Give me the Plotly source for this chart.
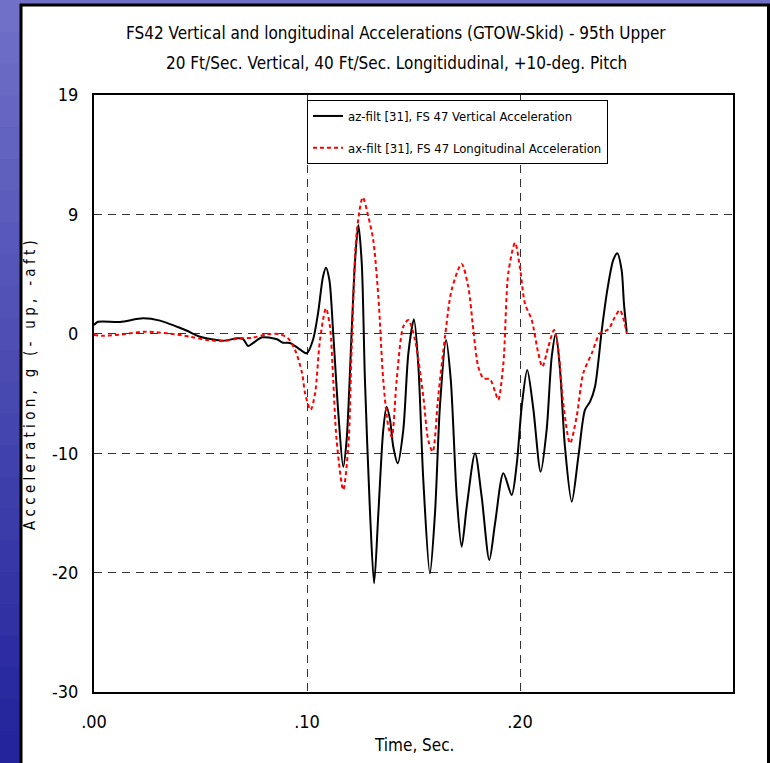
import plotly.graph_objects as go

# ---- data ----
t_az = [0.0000, 0.0019, 0.0122, 0.0230, 0.0310, 0.0390, 0.0437, 0.0498, 0.0606, 0.0671,
        0.0700, 0.0723, 0.0746, 0.0789, 0.0826, 0.0859, 0.0887, 0.0920, 0.0958, 0.0999,
        0.1028, 0.1052, 0.1075, 0.1089, 0.1105, 0.1123, 0.1147, 0.1170, 0.1186, 0.1210,
        0.1225, 0.1241, 0.1257, 0.1272, 0.1296, 0.1315, 0.1335, 0.1358, 0.1374, 0.1390,
        0.1405, 0.1426, 0.1452, 0.1476, 0.1502, 0.1523, 0.1546, 0.1577, 0.1601, 0.1624,
        0.1653, 0.1675, 0.1703, 0.1726, 0.1750, 0.1789, 0.1820, 0.1856, 0.1883, 0.1922,
        0.1961, 0.1985, 0.2008, 0.2034, 0.2062, 0.2097, 0.2125, 0.2149, 0.2168, 0.2188,
        0.2211, 0.2243, 0.2274, 0.2305, 0.2329, 0.2352, 0.2384, 0.2410, 0.2438, 0.2457,
        0.2477, 0.2488, 0.2501]
az = [0.12, 0.39, 0.37, 0.67, 0.48, -0.02, -0.35, -0.84, -1.17, -0.97,
      -1.03, -1.60, -1.36, -0.89, -0.92, -1.05, -1.33, -1.36, -1.77, -2.20,
      -1.11, 1.11, 4.09, 4.83, 3.82, -0.53, -7.10, -11.51, -9.32, -0.29,
      5.21, 8.33, 5.21, -4.39, -15.31, -21.08, -15.31, -8.50, -6.58, -7.68,
      -9.87, -11.23, -8.50, -2.18, 0.59, -3.30, -12.60, -20.26, -15.31, -6.58,
      -1.11, -4.39, -13.97, -18.07, -14.79, -10.41, -13.97, -19.17, -16.15, -12.05,
      -13.83, -11.23, -6.58, -3.57, -6.69, -11.92, -8.50, -2.48, -0.62, -3.57,
      -9.87, -14.38, -10.69, -6.85, -6.17, -4.94, -0.29, 3.00, 5.46, 6.01,
      4.64, 1.90, -0.43]

t_ax = [0.0000, 0.0047, 0.0136, 0.0230, 0.0343, 0.0451, 0.0531, 0.0606, 0.0685, 0.0746,
        0.0812, 0.0873, 0.0911, 0.0944, 0.0977, 0.0991, 0.1017, 0.1038, 0.1061, 0.1089,
        0.1108, 0.1123, 0.1139, 0.1170, 0.1194, 0.1210, 0.1233, 0.1262, 0.1288, 0.1311,
        0.1335, 0.1358, 0.1382, 0.1398, 0.1421, 0.1452, 0.1476, 0.1507, 0.1546, 0.1569,
        0.1590, 0.1616, 0.1648, 0.1679, 0.1726, 0.1757, 0.1781, 0.1804, 0.1828, 0.1859,
        0.1883, 0.1898, 0.1922, 0.1945, 0.1977, 0.2000, 0.2023, 0.2055, 0.2086, 0.2105,
        0.2133, 0.2160, 0.2180, 0.2203, 0.2235, 0.2266, 0.2297, 0.2337, 0.2376, 0.2415,
        0.2446, 0.2469, 0.2485, 0.2501]
ax = [-0.70, -0.76, -0.64, -0.43, -0.56, -0.84, -1.11, -1.19, -0.97, -0.92,
      -0.64, -0.64, -0.97, -1.93, -3.84, -5.48, -6.85, -5.48, -1.11, 1.49,
      -0.02, -4.39, -9.32, -13.42, -9.87, -1.66, 7.65, 10.60, 9.01, 7.10,
      2.44, -4.39, -8.23, -9.05, -4.39, -0.02, 0.53, -1.11, -5.76, -9.32,
      -10.28, -5.76, -0.84, 3.00, 5.13, 3.27, -0.29, -3.30, -4.25, -4.33,
      -5.35, -6.03, -3.02, 4.37, 6.88, 4.80, 1.90, 0.53, -2.20, -3.30,
      -1.66, -0.29, -1.93, -6.30, -9.59, -7.40, -3.84, -2.20, -0.56, -0.23,
      0.80, 1.35, 0.67, -0.56]

y_tickvals = [-30, -20.2, -10.4, -0.6, 9.2, 19]
y_ticktext = ["-30", "-20", "-10", "0", "9", "19"]
x_tickvals = [0.0, 0.1, 0.2]
x_ticktext = [".00", ".10", ".20"]

title_lines = ["FS42 Vertical and longitudinal Accelerations (GTOW-Skid) - 95th Upper",
               "20 Ft/Sec. Vertical, 40 Ft/Sec. Longitidudinal, +10-deg. Pitch"]
y_title = "Acceleration, g (- up, -aft)"
x_title = "Time, Sec."
names = ["az-filt [31], FS 47 Vertical Acceleration",
         "ax-filt [31], FS 47 Longitudinal Acceleration"]

FONT = "DejaVu Sans Condensed, Liberation Sans Narrow, sans-serif"

fig = go.Figure()
fig.add_trace(go.Scatter(x=t_az, y=az, mode="lines", name=names[0], legendgroup="a",
                         line=dict(color="black", width=2, shape="spline", smoothing=0.8)))
fig.add_trace(go.Scatter(x=t_ax, y=ax, mode="lines", name=names[1], legendgroup="b",
                         line=dict(color="#ff0000", width=2, dash="4px,3px",
                                   shape="spline", smoothing=0.8)))

W, H = 770, 763
L, R, T, B = 94, 37, 95, 71
pw, ph = W - L - R, H - T - B

def px(x):
    return (x - L) / pw

def py(y):
    return (H - B - y) / ph

shapes = []
# slide background gradient (bands)
top_col = (112, 112, 200)
bot_col = (36, 36, 156)
n = 24
for i in range(n):
    f = i / (n - 1)
    c = tuple(int(top_col[k] + (bot_col[k] - top_col[k]) * f) for k in range(3))
    y0 = i * H / n
    y1 = (i + 1) * H / n + 1
    shapes.append(dict(type="rect", xref="paper", yref="paper",
                       x0=px(-5), x1=px(W + 5), y0=py(y1), y1=py(y0),
                       fillcolor="rgb(%d,%d,%d)" % c, line=dict(width=0), layer="below"))
# white panel with black border
shapes.append(dict(type="rect", xref="paper", yref="paper",
                   x0=px(21), x1=px(768.5), y0=py(H + 10), y1=py(5),
                   fillcolor="white", line=dict(color="black", width=3), layer="below"))

fig.update_layout(
    width=W, height=H,
    margin=dict(l=L, r=R, t=T, b=B),
    paper_bgcolor="rgb(70,70,180)",
    plot_bgcolor="white",
    font=dict(family=FONT, size=18, color="black"),
    shapes=shapes,
    showlegend=True,
    legend=dict(x=px(307), y=py(100), xanchor="left", yanchor="top",
                bgcolor="white", bordercolor="black", borderwidth=1,
                font=dict(family=FONT, size=13), tracegroupgap=12,
                traceorder="grouped", itemwidth=30),
    annotations=[
        dict(text=title_lines[0], xref="paper", yref="paper", x=px(396), y=py(33),
             showarrow=False, font=dict(size=17), xanchor="center", yanchor="middle"),
        dict(text=title_lines[1], xref="paper", yref="paper", x=px(396), y=py(63),
             showarrow=False, font=dict(size=17), xanchor="center", yanchor="middle"),
        dict(text=" ".join(list(y_title)), xref="paper", yref="paper", x=px(30), y=py(385),
             showarrow=False, textangle=-90, font=dict(size=15), xanchor="center", yanchor="middle"),
        dict(text=x_title, xref="paper", yref="paper", x=px(414), y=py(745),
             showarrow=False, font=dict(size=17), xanchor="center", yanchor="middle"),
    ],
)

fig.update_xaxes(range=[0, 0.3], tickvals=x_tickvals, ticktext=x_ticktext,
                 showgrid=True, gridcolor="#333333", griddash="8px,6px", gridwidth=1,
                 showline=True, linecolor="black", linewidth=2, mirror=True,
                 ticks="", ticklabelstandoff=12, zeroline=False)
fig.update_yaxes(range=[-30, 19], tickvals=y_tickvals, ticktext=y_ticktext,
                 showgrid=True, gridcolor="#333333", griddash="8px,6px", gridwidth=1,
                 showline=True, linecolor="black", linewidth=2, mirror=True,
                 ticks="", ticklabelstandoff=10, zeroline=False)

fig.write_html("out.html")
